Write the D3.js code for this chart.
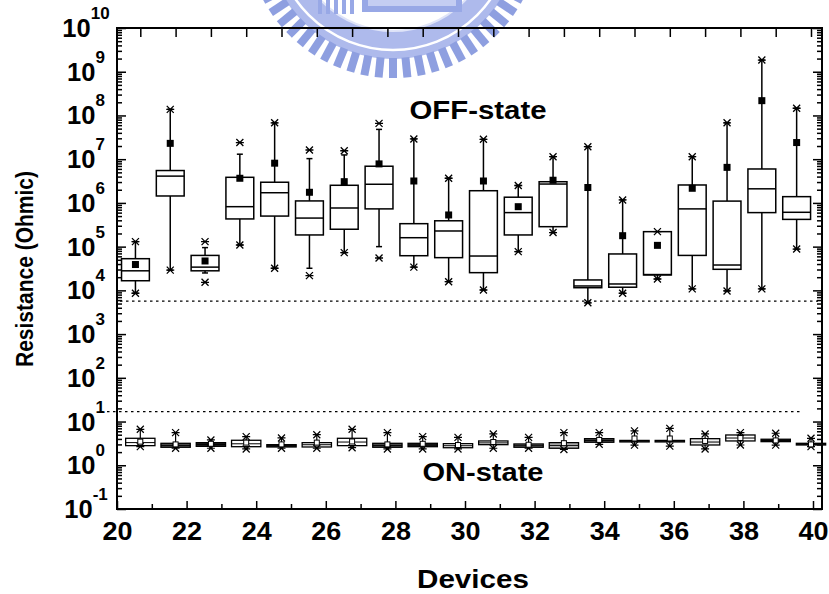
<!DOCTYPE html>
<html><head><meta charset="utf-8">
<script src="https://cdn.jsdelivr.net/npm/d3@7"></script>
<style>
body{margin:0;background:#fff}
svg{display:block}
text{font-family:Arial,"Liberation Sans",Helvetica,sans-serif;font-weight:bold;fill:#000}
</style>
</head><body>
<svg id="chart" width="829" height="594"></svg>
<script>
// ---------------- DATA ----------------
// OFF-state boxes (bottom axis units)
const offDevices   = [20.53,21.53,22.53,23.53,24.53,25.53,26.53,27.53,28.53,29.53,30.53,31.53,32.53,33.53,34.53,35.53,36.53,37.53,38.53,39.53];
const offMax       = [1.3e5,1.38e8,1.3e5,2.4e7,6.8e7,1.62e7,1.56e7,6.6e7,2.9e7,3.66e6,2.85e7,2.5e6,1.14e7,1.93e7,1.17e6,2.2e5,1.14e7,6.8e7,1.85e9,1.46e8];
const offWhiskerHi = [1.3e5,1.38e8,9.5e4,1.3e7,6.8e7,1.03e7,1.25e7,4.8e7,2.9e7,3.66e6,2.85e7,2.5e6,1.14e7,1.93e7,1.17e6,2.2e5,1.14e7,6.8e7,1.85e9,1.46e8];
const offQ3        = [5.3e4,5.5e6,6.3e4,3.85e6,2.97e6,1.11e6,2.53e6,6.9e6,3.35e5,3.9e5,1.9e6,1.35e6,3.05e6,1.73e4,6.8e4,2.2e5,2.57e6,1.1e6,5.97e6,1.39e6];
const offMedian    = [2.8e4,4.1e6,3.4e4,8.2e5,1.71e6,4.5e5,7.65e5,2.67e6,1.6e5,2.28e5,6.1e4,6.0e5,2.7e6,1.26e4,1.4e4,2.3e4,7.3e5,3.8e4,2.1e6,6.1e5];
const offQ1        = [1.66e4,1.44e6,2.8e4,4.3e5,5.0e5,1.85e5,2.5e5,7.3e5,6.2e4,5.6e4,2.54e4,1.85e5,2.86e5,1.15e4,1.18e4,2.25e4,6.3e4,3.03e4,6.0e5,4.2e5];
const offWhiskerLo = [8.6e3,2.9e4,2.5e4,1.09e5,3.2e4,3.2e4,7.3e4,1.0e5,3.4e4,1.58e4,1.02e4,7.7e4,2.1e5,5.2e3,8.6e3,1.82e4,1.08e4,9.7e3,1.08e4,8.8e4];
const offMin       = [8.6e3,2.9e4,1.53e4,1.09e5,3.2e4,2.17e4,7.3e4,5.5e4,3.4e4,1.58e4,1.02e4,7.7e4,2.1e5,5.2e3,8.6e3,1.82e4,1.08e4,9.7e3,1.08e4,8.8e4];
const offMean      = [3.9e4,2.3e7,4.7e4,3.66e6,8.1e6,1.75e6,3.06e6,7.8e6,3.17e6,5.3e5,3.17e6,8.2e5,3.3e6,2.25e6,1.78e5,1.07e5,2.16e6,6.5e6,2.18e8,2.4e7];

// ON-state boxes (top axis units)
const onDevices = [21,22,23,24,25,26,27,28,29,30,31,32,33,34,35,36,37,38,39,40];
const onMax     = [6.65,5.6,3.79,4.51,4.21,5.0,6.65,5.6,4.51,4.36,5.2,4.36,5.6,5.6,6.1,7.0,5.2,5.6,5.4,4.14];
const onQ3      = [4.14,3.18,3.29,3.73,2.96,3.29,4.14,3.18,3.18,3.12,3.6,3.07,3.29,4.06,3.7,3.7,4.06,4.93,3.94,3.18];
const onMedian  = [3.3,2.85,3.0,3.1,2.8,2.95,3.4,2.85,2.9,2.8,3.25,2.8,2.85,3.7,3.55,3.55,3.4,4.2,3.7,3.05];
const onQ1      = [2.81,2.58,2.71,2.66,2.62,2.62,2.81,2.58,2.66,2.52,2.96,2.58,2.45,3.36,3.45,3.45,2.91,3.6,3.47,2.91];
const onMin     = [2.66,2.45,2.45,2.36,2.45,2.45,2.52,2.36,2.36,2.36,2.45,2.45,2.3,3.02,2.9,2.75,2.36,2.91,2.9,2.66];
const onMean    = [3.47,3.0,3.1,3.3,3.0,3.3,3.5,3.0,3.1,2.9,3.4,2.95,3.2,3.8,4.1,4.1,3.6,4.2,3.7,3.0];

const offThreshold = 5.7e3;
const onThreshold  = 16.8;

const xTickValues  = [20,22,24,26,28,30,32,34,36,38,40];
const xMinorValues = [21,23,25,27,29,31,33,35,37,39];
const topTickValues = [21,22,23,24,25,26,27,28,29,30,31,32,33,34,35,36,37,38,39,40];
const yExponents   = [-1,0,1,2,3,4,5,6,7,8,9,10];

// ---------------- STYLE ----------------
const onFills = ['#fff','#555','#222','#fff','#222','#fff','#fff','#555','#222','#fff','#fff','#777','#bbb','#555','#fff','#fff','#eee','#fff','#222','#333'];

// ---------------- LAYOUT ----------------
const L = 117, R = 822, T = 28, B = 509;
const svg = d3.select("#chart");

const x = d3.scaleLinear().domain([20, 40]).range([L, 813]);
const xTop = d3.scaleLinear().domain([20, 40]).range([105, 811]);
const y = d3.scaleLog().domain([1e-1, 1e10]).range([B, T]);

// ---------------- WATERMARK LOGO ----------------
(function(){
  const g = svg.append("g").attr("transform","translate(393,-69)");
  g.append("circle").attr("r",114).attr("fill","none").attr("stroke","#aebaec").attr("stroke-width",28);
  g.append("circle").attr("r",119).attr("fill","none").attr("stroke","#fff").attr("stroke-width",2.5);
  g.append("circle").attr("r",100).attr("fill","none").attr("stroke","#dfe4f8").attr("stroke-width",2);
  const nTeeth = 64;
  g.selectAll("rect.tooth").data(d3.range(nTeeth)).join("rect")
    .attr("class","tooth")
    .attr("x",-4).attr("y",127).attr("width",8).attr("height",20)
    .attr("fill","#8e9fe0")
    .attr("transform", d => `rotate(${d*360/nTeeth})`);
  const t = svg.append("g");
  t.append("rect").attr("x",362).attr("y",0).attr("width",100).attr("height",12).attr("fill","#98a8e6");
  t.append("rect").attr("x",368).attr("y",0).attr("width",88).attr("height",6).attr("fill","#c4cdf2");
  [318,326,334,342,350].forEach(px => t.append("rect").attr("x",px).attr("y",0).attr("width",4).attr("height",14).attr("fill","#98a8e6"));
})();

// ---------------- AXES / FRAME ----------------
const minorY = [];
for (let e = -1; e < 10; e++) for (let m = 2; m <= 9; m++) minorY.push(m * Math.pow(10, e));
const majorY = yExponents.map(e => Math.pow(10, e));

function styleAxis(g){ g.select(".domain").remove(); g.selectAll("line").attr("stroke","#000").attr("stroke-width",1.5); }

svg.append("g").attr("transform",`translate(${L},0)`).call(d3.axisLeft(y).tickValues(minorY).tickSize(-5).tickFormat("")).call(styleAxis);
svg.append("g").attr("transform",`translate(${L},0)`).call(d3.axisLeft(y).tickValues(majorY).tickSize(-9).tickFormat("")).call(styleAxis);
svg.append("g").attr("transform",`translate(${R},0)`).call(d3.axisRight(y).tickValues(minorY).tickSize(-5).tickFormat("")).call(styleAxis);
svg.append("g").attr("transform",`translate(${R},0)`).call(d3.axisRight(y).tickValues(majorY).tickSize(-9).tickFormat("")).call(styleAxis);

svg.append("g").attr("transform",`translate(0,${B})`).call(d3.axisBottom(x).tickValues(xMinorValues).tickSize(-5).tickFormat("")).call(styleAxis);
const xAx = svg.append("g").attr("transform",`translate(0,${B})`).call(d3.axisBottom(x).tickValues(xTickValues).tickSize(-8).tickPadding(13).tickFormat(d3.format("d"))).call(styleAxis);
xAx.selectAll("text").attr("font-size",25).attr("font-family",null).attr("textLength",30).attr("lengthAdjust","spacingAndGlyphs");

svg.append("g").attr("transform",`translate(0,${T})`).call(d3.axisTop(xTop).tickValues(topTickValues).tickSize(-9).tickFormat("")).call(styleAxis);

svg.append("rect").attr("x",L).attr("y",T).attr("width",R-L).attr("height",B-T)
  .attr("fill","none").attr("stroke","#000").attr("stroke-width",2);

// y tick labels 10^n
const yl = svg.append("g");
yExponents.forEach(e => {
  const tx = yl.append("text").attr("x",86).attr("y",y(Math.pow(10,e)) + 9).attr("text-anchor","middle").attr("font-size",25.5);
  tx.append("tspan").text("10");
  tx.append("tspan").attr("dy",-18).attr("font-size",17).text(String(e));
});

// axis titles
svg.append("text").attr("x",473).attr("y",588).attr("text-anchor","middle").attr("font-size",25)
  .attr("textLength",112).attr("lengthAdjust","spacingAndGlyphs").text("Devices");
svg.append("text").attr("transform","translate(33,269) rotate(-90)").attr("text-anchor","middle").attr("font-size",23)
  .attr("textLength",196).attr("lengthAdjust","spacingAndGlyphs").text("Resistance (Ohmic)");

// threshold dotted lines
svg.append("line").attr("x1",L+3).attr("x2",R-4).attr("y1",y(offThreshold)).attr("y2",y(offThreshold))
  .attr("stroke","#000").attr("stroke-width",1.3).attr("stroke-dasharray","2.5,3.5");
svg.append("line").attr("x1",L-16).attr("x2",800).attr("y1",y(onThreshold)).attr("y2",y(onThreshold))
  .attr("stroke","#000").attr("stroke-width",1.3).attr("stroke-dasharray","2.5,3.5");

// state labels
svg.append("text").attr("x",478).attr("y",119).attr("text-anchor","middle").attr("font-size",26.5)
  .attr("textLength",137).attr("lengthAdjust","spacingAndGlyphs").text("OFF-state");
svg.append("text").attr("x",483).attr("y",481).attr("text-anchor","middle").attr("font-size",25)
  .attr("textLength",121).attr("lengthAdjust","spacingAndGlyphs").text("ON-state");

// ---------------- BOXES ----------------
const crossPath = "M-3.5,-3.5L3.5,3.5M-3.5,3.5L3.5,-3.5M-4,0L4,0";

// OFF-state
const offG = svg.append("g");
const offBoxW = x(20.8) - x(20);
offDevices.forEach((d, i) => {
  const cx = x(d);
  const g = offG.append("g");
  const ln = (x1,y1,x2,y2,w) => g.append("line").attr("x1",x1).attr("y1",y1).attr("x2",x2).attr("y2",y2).attr("stroke","#000").attr("stroke-width",w||1.5);
  ln(cx, y(offQ3[i]), cx, y(offWhiskerHi[i]));
  ln(cx, y(offQ1[i]), cx, y(offWhiskerLo[i]));
  ln(cx-3, y(offWhiskerHi[i]), cx+3, y(offWhiskerHi[i]));
  ln(cx-3, y(offWhiskerLo[i]), cx+3, y(offWhiskerLo[i]));
  g.append("rect").attr("x",cx-offBoxW/2).attr("y",y(offQ3[i])).attr("width",offBoxW)
    .attr("height",Math.max(1, y(offQ1[i]) - y(offQ3[i]))).attr("fill","#fff").attr("stroke","#000").attr("stroke-width",1.5);
  ln(cx-offBoxW/2, y(offMedian[i]), cx+offBoxW/2, y(offMedian[i]));
  g.append("path").attr("d",crossPath).attr("transform",`translate(${cx},${y(offMax[i])})`).attr("stroke","#000").attr("stroke-width",1.3).attr("fill","none");
  g.append("path").attr("d",crossPath).attr("transform",`translate(${cx},${y(offMin[i])})`).attr("stroke","#000").attr("stroke-width",1.3).attr("fill","none");
  g.append("rect").attr("x",cx-3.5).attr("y",y(offMean[i])-3.5).attr("width",7).attr("height",7).attr("fill","#000");
});

// ON-state
const onG = svg.append("g");
const onBoxW = xTop(20.83) - xTop(20);
onDevices.forEach((d, i) => {
  const cx = xTop(d);
  const g = onG.append("g");
  const ln = (x1,y1,x2,y2,w) => g.append("line").attr("x1",x1).attr("y1",y1).attr("x2",x2).attr("y2",y2).attr("stroke","#000").attr("stroke-width",w||1.2);
  ln(cx, y(onQ3[i]), cx, y(onMax[i]));
  ln(cx, y(onQ1[i]), cx, y(onMin[i]));
  g.append("rect").attr("x",cx-onBoxW/2).attr("y",y(onQ3[i])).attr("width",onBoxW)
    .attr("height",Math.max(1.5, y(onQ1[i]) - y(onQ3[i]))).attr("fill",onFills[i]).attr("stroke","#000").attr("stroke-width",1.3);
  ln(cx-onBoxW/2, y(onMedian[i]), cx+onBoxW/2, y(onMedian[i]), 1);
  g.append("path").attr("d",crossPath).attr("transform",`translate(${cx},${y(onMax[i])})`).attr("stroke","#000").attr("stroke-width",1.2).attr("fill","none");
  g.append("path").attr("d",crossPath).attr("transform",`translate(${cx},${y(onMin[i])})`).attr("stroke","#000").attr("stroke-width",1.2).attr("fill","none");
  g.append("rect").attr("x",cx-2.5).attr("y",y(onMean[i])-2.5).attr("width",5).attr("height",5).attr("fill","#fff").attr("stroke","#000").attr("stroke-width",1);
});
</script>
</body></html>
